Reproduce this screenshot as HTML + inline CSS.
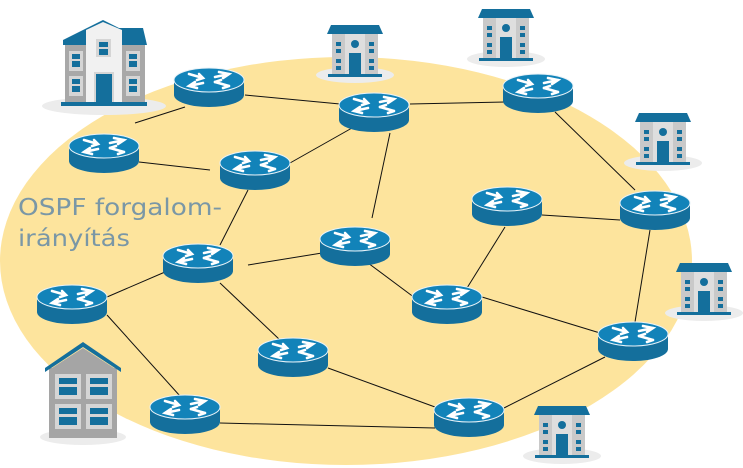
<!DOCTYPE html>
<html><head><meta charset="utf-8"><style>
html,body{margin:0;padding:0;background:#fff;}
svg{display:block;}
</style></head><body>
<svg width="743" height="468" viewBox="0 0 743 468" xmlns="http://www.w3.org/2000/svg">
<defs>
<g id="rt">
<path d="M-35,0 L-35,15 A35,12 0 0 0 35,15 L35,0 Z" fill="#146f9c"/>
<ellipse cx="0" cy="0" rx="35" ry="12" fill="#1283b9" stroke="#e8f2f8" stroke-width="1"/>
<g stroke="#fff" stroke-width="2.6" fill="none" stroke-linecap="round">
<path d="M-20,-6 L-6,-2 M-10,-6 L-6,-2 L-12,0"/>
<path d="M20,-6 L6,-3 M10,-8 L20,-6 L14,-2"/>
<path d="M-6,3 L-20,6 M-14,2 L-20,6 L-12,8"/>
<path d="M6,2 L20,6 M14,8 L20,6"/>
<path d="M6,2 L12,0"/>
</g>
</g>
<g id="bd">
<ellipse cx="28" cy="52" rx="39" ry="8" fill="#ececec"/>
<rect x="5" y="10" width="46" height="42" fill="#c9c9c9"/>
<rect x="18" y="10" width="20" height="42" fill="#dedede"/>
<path d="M4,2 L52,2 L56,11 L0,11 Z" fill="#146f9c"/>
<circle cx="28" cy="21" r="4" fill="#146f9c"/>
<rect x="22" y="30" width="12" height="22" fill="#146f9c"/>
<rect x="9" y="19" width="5" height="4" fill="#146f9c"/><rect x="9" y="26" width="5" height="4" fill="#146f9c"/>
<rect x="9" y="36" width="5" height="4" fill="#146f9c"/><rect x="9" y="43" width="5" height="4" fill="#146f9c"/>
<rect x="42" y="19" width="5" height="4" fill="#146f9c"/><rect x="42" y="26" width="5" height="4" fill="#146f9c"/>
<rect x="42" y="36" width="5" height="4" fill="#146f9c"/><rect x="42" y="43" width="5" height="4" fill="#146f9c"/>
<rect x="1" y="51" width="54" height="3" fill="#146f9c"/>
</g>
</defs>
<ellipse cx="346" cy="261" rx="346" ry="204" fill="#fde49d"/>
<g stroke="#111" stroke-width="1">
<line x1="245" y1="95" x2="340" y2="104"/>
<line x1="185" y1="107" x2="135" y2="123"/>
<line x1="139" y1="162" x2="210" y2="170"/>
<line x1="290" y1="163" x2="352" y2="128"/>
<line x1="410" y1="104" x2="505" y2="102"/>
<line x1="390" y1="133" x2="372" y2="218"/>
<line x1="555" y1="112" x2="635" y2="190"/>
<line x1="542" y1="215" x2="620" y2="220"/>
<line x1="248" y1="190" x2="220" y2="245"/>
<line x1="248" y1="265" x2="322" y2="253"/>
<line x1="107" y1="297" x2="165" y2="272"/>
<line x1="220" y1="283" x2="280" y2="340"/>
<line x1="107" y1="315" x2="180" y2="396"/>
<line x1="368" y1="263" x2="415" y2="298"/>
<line x1="505" y1="227" x2="467" y2="288"/>
<line x1="482" y1="297" x2="600" y2="333"/>
<line x1="650" y1="230" x2="635" y2="322"/>
<line x1="605" y1="357" x2="504" y2="408"/>
<line x1="328" y1="368" x2="435" y2="407"/>
<line x1="220" y1="423" x2="435" y2="428"/>
</g>
<ellipse cx="104" cy="106" rx="62" ry="9" fill="#ececec"/>
<rect x="65" y="42" width="80" height="62" fill="#a8a8a8"/>
<rect x="86" y="28" width="36" height="76" fill="#f1f1f1"/>
<path d="M63,40 L87,28 L103,20 L119,28 L143,28 L147,45 L63,45 Z" fill="#146f9c"/>
<path d="M86,45 L86,30 L103,22 L122,30 L122,45 Z" fill="#f1f1f1"/>
<rect x="69" y="51" width="14" height="20" fill="#d5d5d5"/><rect x="72" y="54" width="8" height="5" fill="#146f9c"/><rect x="72" y="61" width="8" height="6" fill="#146f9c"/>
<rect x="69" y="76" width="14" height="20" fill="#d5d5d5"/><rect x="72" y="79" width="8" height="5" fill="#146f9c"/><rect x="72" y="86" width="8" height="6" fill="#146f9c"/>
<rect x="126" y="51" width="14" height="20" fill="#d5d5d5"/><rect x="129" y="54" width="8" height="5" fill="#146f9c"/><rect x="129" y="61" width="8" height="6" fill="#146f9c"/>
<rect x="126" y="76" width="14" height="20" fill="#d5d5d5"/><rect x="129" y="79" width="8" height="5" fill="#146f9c"/><rect x="129" y="86" width="8" height="6" fill="#146f9c"/>
<rect x="96" y="39" width="15" height="18" fill="#d5d5d5"/><rect x="99" y="42" width="9" height="5" fill="#146f9c"/><rect x="99" y="49" width="9" height="6" fill="#146f9c"/>
<rect x="94" y="72" width="20" height="32" fill="#d5d5d5"/><rect x="96" y="74" width="16" height="30" fill="#146f9c"/>
<rect x="61" y="102" width="86" height="4" fill="#146f9c"/>
<ellipse cx="83" cy="437" rx="43" ry="8" fill="#ececec"/>
<rect x="49" y="368" width="68" height="70" fill="#a5a5a5"/>
<path d="M45,368 L83,342 L121,368 L121,372 L83,347 L45,372 Z" fill="#146f9c"/>
<path d="M49,370 L83,348 L117,370 Z" fill="#a5a5a5"/>
<g fill="#d5d5d5"><rect x="55" y="374" width="26" height="25"/><rect x="86" y="374" width="26" height="25"/><rect x="55" y="404" width="26" height="25"/><rect x="86" y="404" width="26" height="25"/></g>
<g fill="#146f9c"><rect x="59" y="378" width="18" height="6"/><rect x="59" y="387" width="18" height="8"/><rect x="90" y="378" width="18" height="6"/><rect x="90" y="387" width="18" height="8"/>
<rect x="59" y="408" width="18" height="6"/><rect x="59" y="417" width="18" height="8"/><rect x="90" y="408" width="18" height="6"/><rect x="90" y="417" width="18" height="8"/></g>
<use href="#bd" x="327" y="23"/>
<use href="#bd" x="478" y="7"/>
<use href="#bd" x="635" y="111"/>
<use href="#bd" x="676" y="261"/>
<use href="#bd" x="534" y="404"/>
<use href="#rt" x="209" y="80"/>
<use href="#rt" x="104" y="146"/>
<use href="#rt" x="374" y="105"/>
<use href="#rt" x="538" y="86"/>
<use href="#rt" x="255" y="163"/>
<use href="#rt" x="655" y="203"/>
<use href="#rt" x="507" y="199"/>
<use href="#rt" x="355" y="239"/>
<use href="#rt" x="198" y="256"/>
<use href="#rt" x="72" y="297"/>
<use href="#rt" x="447" y="297"/>
<use href="#rt" x="633" y="334"/>
<use href="#rt" x="293" y="350"/>
<use href="#rt" x="185" y="407"/>
<use href="#rt" x="469" y="410"/>
<text x="18" y="215" font-family="DejaVu Sans, sans-serif" font-size="23" fill="#7a97a6" textLength="204" lengthAdjust="spacingAndGlyphs">OSPF forgalom-</text>
<text x="18" y="246" font-family="DejaVu Sans, sans-serif" font-size="23" fill="#7a97a6" textLength="112" lengthAdjust="spacingAndGlyphs">irányítás</text>
</svg>
</body></html>
